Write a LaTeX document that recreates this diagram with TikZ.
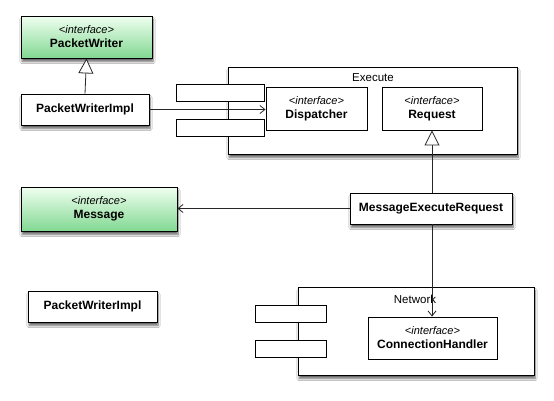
\documentclass[tikz,border=0pt]{standalone}
\usepackage{fontspec}
\setmainfont{Liberation Sans}
\usetikzlibrary{arrows.meta,shadows.blur}
\begin{document}
\begin{tikzpicture}[x=1pt,y=-1pt,
  box/.style={draw=black, line width=0.9pt, fill=white, inner sep=0pt, align=center, font=\fontsize{12}{14}\selectfont\bfseries},
  shad/.style={blur shadow={shadow xshift=1pt, shadow yshift=-3.5pt, shadow blur steps=6, shadow opacity=60}},
  iface/.style={box, top color=green!6, bottom color={rgb,255:red,130;green,216;blue,146}},
  port/.style={draw=black, line width=0.9pt, fill=white, inner sep=0pt},
  comp/.style={draw=black, line width=0.9pt, fill=white, inner sep=0pt},
  lbl/.style={font=\fontsize{11.5}{13}\selectfont, inner sep=0pt},
  dep/.style={draw=black!85, line width=0.8pt, -{Straight Barb[length=5pt,width=8pt]}},
  gen/.style={draw=black!85, line width=0.8pt, -{Triangle[open,length=15pt,width=15pt,fill=white]}}]
\useasboundingbox[fill=white] (0,0) rectangle (554,400);
\newcommand{\intf}[1]{{\fontsize{11}{14}\selectfont\mdseries\itshape <interface>}\\#1}
% boxes
\node[iface, shad, minimum width=131pt, minimum height=42pt] (pw) at (86.5,37) {\intf{PacketWriter}};
\node[box, shad, minimum width=128pt, minimum height=31pt] (pwi) at (85,109.5) {PacketWriterImpl};
\node[comp, shad, minimum width=289pt, minimum height=87pt] (exec) at (372.5,110.5) {};
\node[lbl, anchor=center] (execl) at (373,77.5) {Execute};
\node[port, minimum width=88pt, minimum height=17pt] (pa) at (220,92.5) {};
\node[port, minimum width=88pt, minimum height=17pt] (pb) at (220,127.5) {};
\node[box, minimum width=101pt, minimum height=43pt] (disp) at (316.5,108.5) {\intf{Dispatcher}};
\node[box, minimum width=100pt, minimum height=43pt] (req) at (432,108.5) {\intf{Request}};
\node[iface, shad, minimum width=156pt, minimum height=44pt] (msg) at (99,209) {\intf{Message}};
\node[box, shad, minimum width=162pt, minimum height=31pt] (mer) at (431,208.5) {MessageExecuteRequest};
\node[box, shad, minimum width=129pt, minimum height=31pt] (pwi2) at (92.5,306.5) {PacketWriterImpl};
\node[comp, shad, minimum width=236pt, minimum height=88pt] (net) at (416,331) {};
\node[lbl, anchor=center] (netl) at (415,299) {Network};
\node[port, minimum width=71pt, minimum height=17pt] (pc) at (290.5,313.5) {};
\node[port, minimum width=71pt, minimum height=17pt] (pd) at (290.5,348.5) {};
\node[box, minimum width=129pt, minimum height=42pt] (ch) at (432.5,338) {\intf{ConnectionHandler}};
% connectors
\draw[gen] (pwi.north) -- (pw.south);
\draw[dep] (pwi.east) -- (pwi.east -| disp.west);
\draw[gen] (mer.north -| req.south) -- (req.south);
\draw[dep] (mer.west) -- (mer.west -| msg.east);
\draw[dep] (mer.south -| req.south) -- (ch.north -| req.south);
\end{tikzpicture}
\end{document}
